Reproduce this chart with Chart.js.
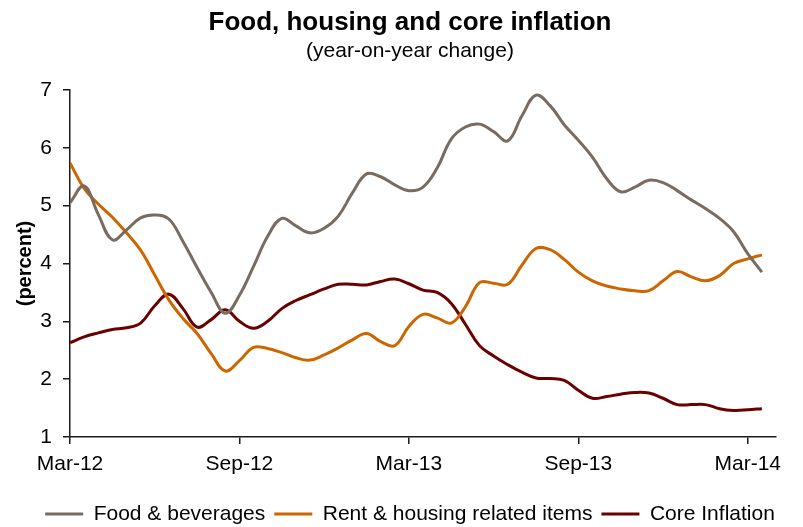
<!DOCTYPE html>
<html>
<head>
<meta charset="utf-8">
<script src="https://cdn.jsdelivr.net/npm/chart.js@4/dist/chart.umd.min.js"></script>
<style>
  html, body { margin: 0; padding: 0; background: #ffffff; }
  #wrap { width: 803px; height: 527px; position: relative; }
</style>
</head>
<body>
<div id="wrap"><canvas id="c" width="803" height="527"></canvas></div>
<script>
// Months since Mar-12 (half-month readings)
const monthIndex = [0,0.5,1,1.5,2,2.5,3,3.5,4,4.5,5,5.5,6,6.5,7,7.5,8,8.5,9,9.5,10,10.5,11,11.5,12,12.5,13,13.5,14,14.5,15,15.5,16,16.5,17,17.5,18,18.5,19,19.5,20,20.5,21,21.5,22,22.5,23,23.5,24,24.5];

const foodBeverages = [5.05,5.34,4.85,4.41,4.58,4.79,4.84,4.77,4.38,3.93,3.50,3.14,3.45,3.95,4.47,4.78,4.65,4.53,4.61,4.82,5.22,5.55,5.50,5.36,5.26,5.32,5.65,6.15,6.36,6.41,6.28,6.12,6.55,6.91,6.73,6.40,6.13,5.84,5.47,5.24,5.32,5.44,5.40,5.26,5.10,4.95,4.78,4.55,4.17,3.85];

const rentHousing = [5.74,5.30,5.03,4.80,4.53,4.23,3.80,3.37,3.05,2.79,2.44,2.14,2.32,2.55,2.53,2.46,2.37,2.33,2.42,2.54,2.68,2.79,2.65,2.58,2.91,3.12,3.06,2.97,3.25,3.67,3.66,3.64,3.97,4.26,4.24,4.07,3.85,3.70,3.61,3.56,3.53,3.53,3.70,3.86,3.77,3.70,3.79,4.00,4.08,4.15];

const coreInflation = [2.63,2.73,2.80,2.86,2.89,2.97,3.27,3.47,3.22,2.90,3.03,3.20,3.00,2.88,3.00,3.22,3.36,3.46,3.56,3.64,3.64,3.63,3.69,3.73,3.65,3.54,3.50,3.31,2.95,2.58,2.40,2.25,2.12,2.02,2.01,1.98,1.81,1.67,1.70,1.74,1.77,1.76,1.67,1.56,1.56,1.56,1.49,1.46,1.47,1.49];

const tickPositions = [0, 6, 12, 18, 24];
const tickLabels = ['Mar-12', 'Sep-12', 'Mar-13', 'Sep-13', 'Mar-14'];

const seriesNames = ['Food & beverages', 'Rent & housing related items', 'Core Inflation'];
const seriesColors = ['#786C60', '#CC6600', '#6B0000'];

const FONT = "'Liberation Sans', Arial, Helvetica, sans-serif";

function toPoints(values) {
  return values.map((v, i) => ({ x: monthIndex[i], y: v }));
}

const seriesValues = [foodBeverages, rentHousing, coreInflation];
const datasets = seriesValues.map((vals, i) => ({
  label: seriesNames[i],
  data: toPoints(vals),
  borderColor: seriesColors[i],
  backgroundColor: seriesColors[i],
  borderWidth: 3,
  pointRadius: 0,
  pointHoverRadius: 0,
  pointStyle: 'line',
  tension: 0.4,
  fill: false,
  yAxisID: 'y'
}));

new Chart(document.getElementById('c'), {
  type: 'line',
  data: { datasets },
  options: {
    responsive: false,
    animation: false,
    devicePixelRatio: 1,
    layout: { padding: { left: 17, right: 0, top: 0, bottom: -7.5 } },
    plugins: {
      title: {
        display: true,
        text: 'Food, housing and core inflation',
        color: '#000',
        font: { family: FONT, size: 26, weight: 'bold' },
        padding: { top: 7, bottom: 0 }
      },
      subtitle: {
        display: true,
        text: '(year-on-year change)',
        color: '#000',
        font: { family: FONT, size: 21 },
        padding: { top: 0, bottom: 26.6 }
      },
      legend: {
        display: true,
        position: 'bottom',
        labels: {
          color: '#000',
          font: { family: FONT, size: 21 },
          usePointStyle: true,
          pointStyle: 'line',
          pointStyleWidth: 38,
          padding: 9
        }
      },
      tooltip: { enabled: false }
    },
    scales: {
      x: {
        type: 'linear',
        min: 0,
        max: 25,
        afterBuildTicks: (scale) => { scale.ticks = tickPositions.map(v => ({ value: v })); },
        afterFit: (scale) => { scale.height = 57.5; },
        ticks: {
          color: '#000',
          font: { family: FONT, size: 21 },
          padding: 8,
          maxRotation: 0,
          autoSkip: false,
          callback: (v) => { const k = tickPositions.indexOf(v); return k >= 0 ? tickLabels[k] : ''; }
        },
        grid: { display: true, drawOnChartArea: false, drawTicks: true, tickLength: 7, color: '#1a1a1a', lineWidth: 1.5 },
        border: { display: true, color: '#1a1a1a', width: 1.5 }
      },
      y: {
        position: 'left',
        min: 1,
        max: 7,
        afterFit: (scale) => { scale.width = 53; },
        ticks: {
          stepSize: 1,
          color: '#000',
          font: { family: FONT, size: 21 },
          padding: 11
        },
        title: {
          display: true,
          text: '(percent)',
          color: '#000',
          font: { family: FONT, size: 20, weight: 'bold' },
          padding: { top: -4, bottom: 0 }
        },
        grid: { display: true, drawOnChartArea: false, drawTicks: true, tickLength: 7, color: '#1a1a1a', lineWidth: 1.5 },
        border: { display: true, color: '#1a1a1a', width: 1.5 }
      },
      yRightSpace: {
        position: 'right',
        display: true,
        min: 1,
        max: 7,
        afterFit: (scale) => { scale.width = 27; },
        ticks: { display: false },
        grid: { display: false },
        border: { display: false }
      }
    }
  }
});
</script>
</body>
</html>
